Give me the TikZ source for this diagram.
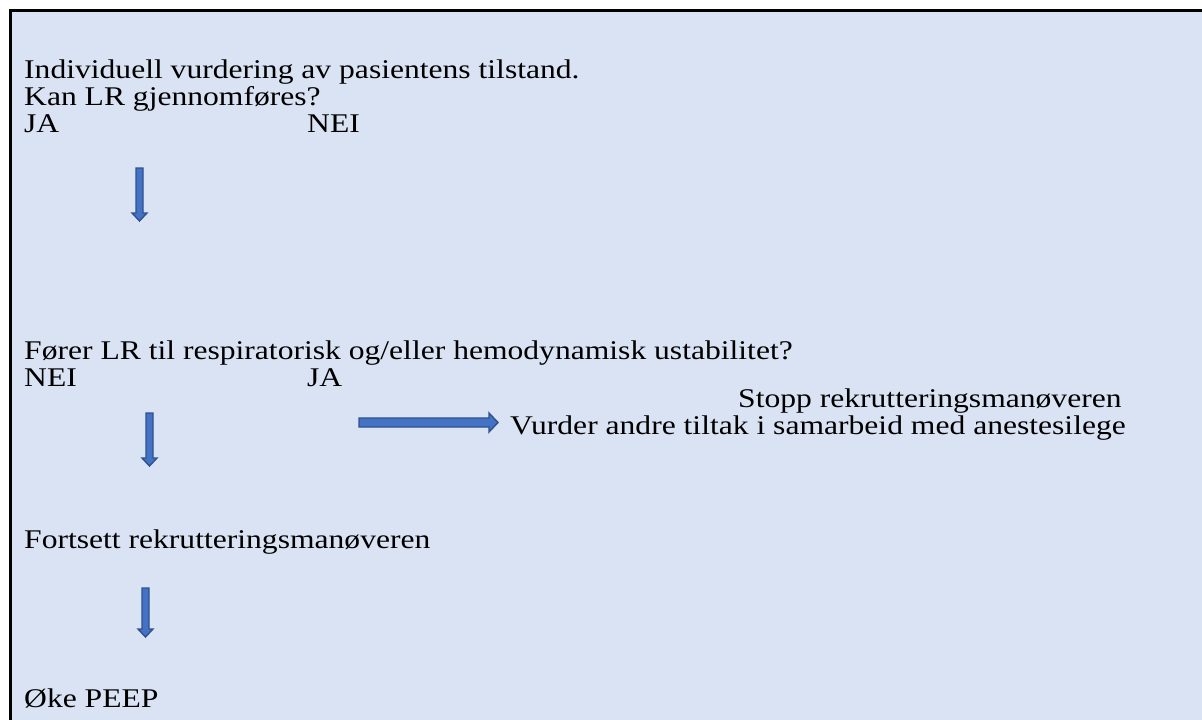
\documentclass[tikz,border=0pt]{standalone}
\usepackage{graphicx}
\usepackage{fontspec}
\setmainfont{Liberation Serif}
\definecolor{bgblue}{HTML}{DAE3F3}
\definecolor{arrowfill}{HTML}{4472C4}
\definecolor{arrowline}{HTML}{2F528F}
\newcommand{\wtxt}[1]{\scalebox{1.17}[1]{#1}}
\begin{document}
\begin{tikzpicture}[x=1pt,y=-1pt,
  txt/.style={anchor=base west,inner sep=0pt,font=\fontsize{27}{31}\selectfont},
  blockarrow/.style={fill=arrowfill,draw=arrowline,line width=1.4pt,line join=miter}]
\useasboundingbox (0,0) rectangle (1202,720);
\begin{scope}
\clip (0,0) rectangle (1202,720);
\fill[white] (0,0) rectangle (1202,720);
\filldraw[fill=bgblue,draw=black,line width=3pt] (10.5,10.5) rectangle (1215,735);
\end{scope}
% texts
\node[txt] (t1) at (24,78) {\wtxt{Individuell vurdering av pasientens tilstand.}};
\node[txt] (t2) at (24,105) {\wtxt{Kan LR gjennomføres?}};
\node[txt] (t3a) at (24,132) {\wtxt{JA}};
\node[txt] (t3b) at (307,132) {\wtxt{NEI}};
\node[txt] (t4) at (24,359) {\wtxt{Fører LR til respiratorisk og/eller hemodynamisk ustabilitet?}};
\node[txt] (t5a) at (24,386) {\wtxt{NEI}};
\node[txt] (t5b) at (307,386) {\wtxt{JA}};
\node[txt] (t6) at (738,407) {\wtxt{Stopp rekrutteringsmanøveren}};
\node[txt] (t7) at (510,434) {\wtxt{Vurder andre tiltak i samarbeid med anestesilege}};
\node[txt] (t8) at (24,548) {\wtxt{Fortsett rekrutteringsmanøveren}};
\node[txt] (t9) at (24,707) {\wtxt{Øke PEEP}};
% block arrows
\filldraw[blockarrow] (136,168) -- (143,168) -- (143,213) -- (147,213) -- (139.5,221) -- (132,213) -- (136,213) -- cycle;
\filldraw[blockarrow] (146,413) -- (153,413) -- (153,458) -- (157,458) -- (149.5,466) -- (142,458) -- (146,458) -- cycle;
\filldraw[blockarrow] (142,588) -- (149,588) -- (149,629) -- (153,629) -- (145.5,637) -- (138,629) -- (142,629) -- cycle;
\filldraw[blockarrow] (359,418) -- (489,418) -- (489,413) -- (498,422.5) -- (489,432) -- (489,427) -- (359,427) -- cycle;
\end{tikzpicture}
\end{document}
